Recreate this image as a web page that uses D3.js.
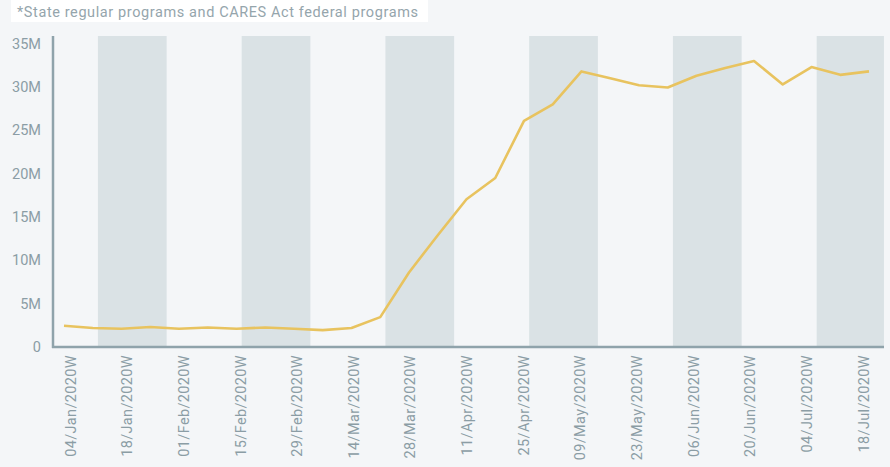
<!DOCTYPE html>
<html><head><meta charset="utf-8">
<script src="https://cdn.jsdelivr.net/npm/d3@7"></script>
<style>
html,body{margin:0;padding:0;background:#f4f6f8;}
svg{display:block;font-family:Roboto,"Noto Sans",sans-serif;}
</style></head>
<body><svg id="c" width="890" height="467"></svg>
<script>
const title = "*State regular programs and CARES Act federal programs";
const weeks = ["04/Jan/2020W","11/Jan/2020W","18/Jan/2020W","25/Jan/2020W","01/Feb/2020W","08/Feb/2020W","15/Feb/2020W","22/Feb/2020W","29/Feb/2020W","07/Mar/2020W","14/Mar/2020W","21/Mar/2020W","28/Mar/2020W","04/Apr/2020W","11/Apr/2020W","18/Apr/2020W","25/Apr/2020W","02/May/2020W","09/May/2020W","16/May/2020W","23/May/2020W","30/May/2020W","06/Jun/2020W","13/Jun/2020W","20/Jun/2020W","27/Jun/2020W","04/Jul/2020W","11/Jul/2020W","18/Jul/2020W"];
const claims = [2.45,2.2,2.1,2.3,2.1,2.25,2.1,2.25,2.1,1.95,2.2,3.45,8.6,12.9,17.05,19.5,26.1,28.0,31.8,31.0,30.2,29.95,31.3,32.2,33.0,30.3,32.3,31.4,31.8].map(v=>v*1e6);
const tickLabels = weeks.filter((d,i)=>i%2===0);
const yTicks = [0,5e6,10e6,15e6,20e6,25e6,30e6,35e6];
// shaded bands in week-index units
const bands = [[1.18,3.57],[6.18,8.57],[11.18,13.57],[16.18,18.57],[21.18,23.57],[26.18,28.52]];

const svg = d3.select("#c");
const mLeft = 53, mRight = 884, mTop = 35, mBottom = 347;
const x = d3.scaleLinear().domain([0, weeks.length-1]).range([64, 869]);
const xl = d3.scalePoint().domain(tickLabels).range([70, 863]);
const y = d3.scaleLinear().domain([0, 36e6]).range([mBottom, mTop]);

const textCol = "#8b9da5";

// title
const tg = svg.append("g");
tg.append("rect").attr("x",11).attr("y",0).attr("width",417).attr("height",22).attr("fill","#ffffff");
tg.append("text").attr("x",17).attr("y",17).attr("font-size",14.5).attr("letter-spacing",0.6)
  .attr("fill","#95a5ac").text(title);

// bands
svg.append("g").selectAll("rect").data(bands).join("rect")
  .attr("x", d=>x(d[0])).attr("width", d=>Math.min(x(d[1]),mRight)-x(d[0]))
  .attr("y", mTop+1).attr("height", mBottom-mTop-1).attr("fill","#dae2e5");

// y axis
const ya = svg.append("g").attr("transform",`translate(${mLeft},0)`)
  .call(d3.axisLeft(y).tickValues(yTicks).tickSize(0).tickPadding(12)
    .tickFormat(d=> d===0 ? "0" : (d/1e6)+"M"));
ya.select(".domain").remove();
ya.selectAll("text").attr("fill",textCol).attr("font-size",14.5).attr("font-family","Roboto,sans-serif");

// x axis labels
const xa = svg.append("g").attr("transform",`translate(0,${mBottom})`)
  .call(d3.axisBottom(xl).tickSize(0).tickPadding(0));
xa.select(".domain").remove();
xa.selectAll("text").attr("fill",textCol).attr("font-size",14.5).attr("font-family","Roboto,sans-serif")
  .attr("letter-spacing",0.35)
  .attr("text-anchor","end").attr("transform","rotate(-90)").attr("x",-8).attr("y",0).attr("dy","0.35em");

// axis lines
svg.append("line").attr("x1",mLeft).attr("x2",mLeft).attr("y1",mTop+1).attr("y2",mBottom+1)
  .attr("stroke","#8fa3ab").attr("stroke-width",2.5);
svg.append("line").attr("x1",mLeft-1).attr("x2",mRight).attr("y1",mBottom).attr("y2",mBottom)
  .attr("stroke","#8fa3ab").attr("stroke-width",2.5);

// line
svg.append("path").datum(claims)
  .attr("fill","none").attr("stroke","#e8c35f").attr("stroke-width",2.6).attr("stroke-linejoin","round")
  .attr("d", d3.line().x((d,i)=>x(i)).y(d=>y(d)));
</script></body></html>
